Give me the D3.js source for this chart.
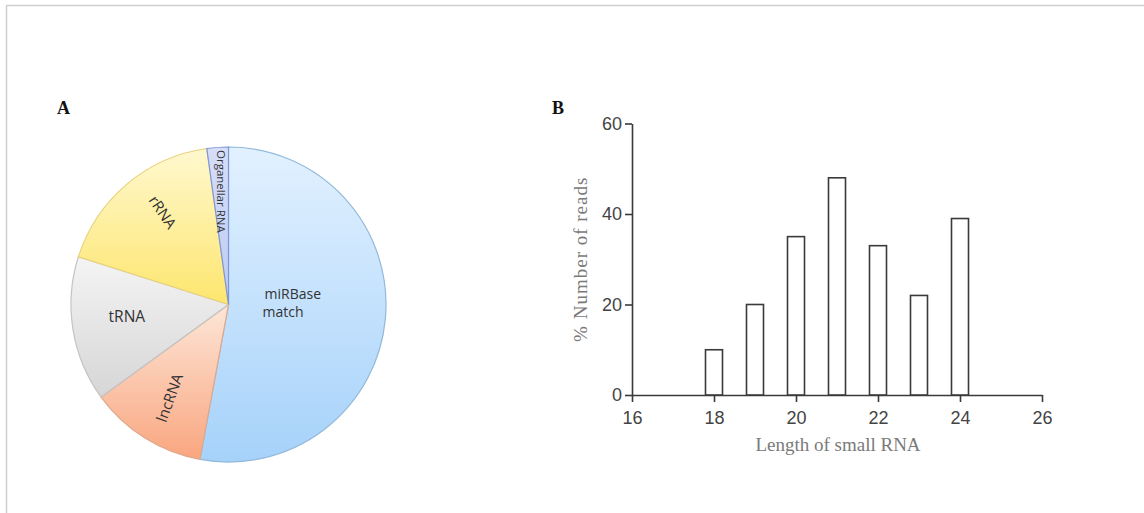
<!DOCTYPE html>
<html>
<head>
<meta charset="utf-8">
<script src="https://cdn.jsdelivr.net/npm/d3@7"></script>
<style>
  html, body { margin: 0; padding: 0; background: #fff; }
  svg { display: block; }
</style>
</head>
<body>
<div id="chart"></div>
<script>
// Panel A: read categories (share of reads, %)
const pieLabels = ['miRBase match', 'lncRNA', 'tRNA', 'rRNA', 'Organellar RNA'];
const pieValues = [52.9, 12.1, 14.9, 17.9, 2.2];

// Panel B: length distribution
const lengths = [18, 19, 20, 21, 22, 23, 24];
const readPercents = [10, 20, 35, 48, 33, 22, 39];
const xTicks = [16, 18, 20, 22, 24, 26];
const yTicks = [0, 20, 40, 60];

const W = 1144, H = 513;
const svg = d3.select('#chart').append('svg')
  .attr('width', W)
  .attr('height', H);

// frame lines (top + left)
svg.append('line').attr('x1', 6).attr('y1', 5.5).attr('x2', W).attr('y2', 5.5)
  .attr('stroke', '#cfcfcf').attr('stroke-width', 1.5);
svg.append('line').attr('x1', 6.5).attr('y1', 5).attr('x2', 6.5).attr('y2', H)
  .attr('stroke', '#cfcfcf').attr('stroke-width', 1.5);

// ---------- Panel A: pie ----------
const defs = svg.append('defs');
const sliceStyles = [
  { top: '#e2f1ff', bottom: '#a6d2fa', stroke: '#93b9da' },
  { top: '#fde6d8', bottom: '#f9a67f', stroke: '#e0a78a' },
  { top: '#f4f4f4', bottom: '#d6d6d6', stroke: '#c4c4c4' },
  { top: '#fff8cf', bottom: '#fde66e', stroke: '#e7d27d' },
  { top: '#d6def8', bottom: '#bccbf2', stroke: '#7f96d6' }
];
sliceStyles.forEach((s, i) => {
  const g = defs.append('linearGradient')
    .attr('id', 'grad' + i)
    .attr('x1', 0).attr('y1', 0).attr('x2', 0).attr('y2', 1);
  g.append('stop').attr('offset', '0%').attr('stop-color', s.top);
  g.append('stop').attr('offset', '100%').attr('stop-color', s.bottom);
});

const panelFont = '"Liberation Serif", "DejaVu Serif", serif';
svg.append('text')
  .attr('x', 57).attr('y', 114)
  .style('font-family', panelFont)
  .style('font-weight', 'bold')
  .style('font-size', '18px')
  .attr('fill', '#111')
  .text('A');

const cx = 228.5, cy = 304.5, radius = 157.5;
const pie = d3.pie().sort(null).value(d => d)(pieValues);
const arc = d3.arc().innerRadius(0).outerRadius(radius);

const pieG = svg.append('g').attr('transform', `translate(${cx},${cy})`);
pieG.selectAll('path')
  .data(pie)
  .enter()
  .append('path')
  .attr('d', arc)
  .attr('fill', (d, i) => `url(#grad${i})`)
  .attr('stroke', (d, i) => sliceStyles[i].stroke)
  .attr('stroke-width', 1.2);

// slice labels, placed by angle / radius fraction
const labelSpecs = [
  { r: 0.42, rot: 0, lines: ['miRBase', 'match'], anchor: 'start', size: 14 },
  { r: 0.70, rot: -70, size: 15 },
  { r: 0.65, rot: 0, size: 15.5, da: 0.04 },
  { r: 0.72, rot: 56, size: 15, da: 0.08 },
  { r: 0.72, rot: 90, size: 11.5 }
];
const labelFont = '"Open Sans", "Liberation Sans", sans-serif';
pie.forEach((d, i) => {
  const spec = labelSpecs[i];
  const a = (d.startAngle + d.endAngle) / 2 + (spec.da || 0);
  let x = Math.sin(a) * radius * spec.r;
  let y = -Math.cos(a) * radius * spec.r;
  if (i === 0) { x = 36; y = -6; }
  const t = pieG.append('text')
    .attr('transform', `translate(${x},${y}) rotate(${spec.rot})`)
    .attr('text-anchor', spec.anchor || 'middle')
    .style('font-family', labelFont)
    .style('font-size', spec.size + 'px')
    .attr('fill', '#333');
  if (spec.lines) {
    spec.lines.forEach((ln, k) => {
      t.append('tspan').attr('x', k === 0 ? 0 : -2).attr('dy', k === 0 ? 0 : 18).text(ln);
    });
  } else {
    t.attr('dy', '0.35em').text(pieLabels[i]);
  }
});

// ---------- Panel B: bars ----------
svg.append('text')
  .attr('x', 552).attr('y', 114)
  .style('font-family', panelFont)
  .style('font-weight', 'bold')
  .style('font-size', '18px')
  .attr('fill', '#111')
  .text('B');

const x = d3.scaleLinear().domain([16, 26]).range([632, 1042]);
const y = d3.scaleLinear().domain([0, 60]).range([395, 123.5]);
const barW = 17;

const axisColor = '#3a3a3a';
const xAxisG = svg.append('g')
  .attr('transform', `translate(0,${y(0)})`)
  .call(d3.axisBottom(x).tickValues(xTicks).tickSize(7).tickPadding(9).tickSizeOuter(0));
const yAxisG = svg.append('g')
  .attr('transform', `translate(${x(16)},0)`)
  .call(d3.axisLeft(y).tickValues(yTicks).tickSize(7).tickPadding(3).tickSizeOuter(0));

[xAxisG, yAxisG].forEach(g => {
  g.select('.domain').attr('stroke', axisColor).attr('stroke-width', 1.6);
  g.selectAll('.tick line').attr('stroke', axisColor).attr('stroke-width', 1.6);
  g.selectAll('.tick text')
    .attr('fill', '#444')
    .style('font-family', '"Liberation Sans", Arial, sans-serif')
    .style('font-size', '18px');
});

svg.append('g')
  .selectAll('rect')
  .data(lengths)
  .enter()
  .append('rect')
  .attr('x', (d, i) => x(d) - barW / 2)
  .attr('y', (d, i) => y(readPercents[i]))
  .attr('width', barW)
  .attr('height', (d, i) => y(0) - y(readPercents[i]))
  .attr('fill', '#fff')
  .attr('stroke', axisColor)
  .attr('stroke-width', 1.6);

svg.append('text')
  .attr('x', 838)
  .attr('y', 451)
  .attr('text-anchor', 'middle')
  .style('font-family', panelFont)
  .style('font-size', '19px')
  .attr('fill', '#7a7a7a')
  .text('Length of small RNA');

svg.append('text')
  .attr('transform', `translate(587,${(y(0) + y(60)) / 2}) rotate(-90)`)
  .attr('text-anchor', 'middle')
  .style('font-family', panelFont)
  .style('font-size', '19px')
  .style('letter-spacing', '1px')
  .attr('fill', '#7a7a7a')
  .text('% Number of reads');
</script>
</body>
</html>
